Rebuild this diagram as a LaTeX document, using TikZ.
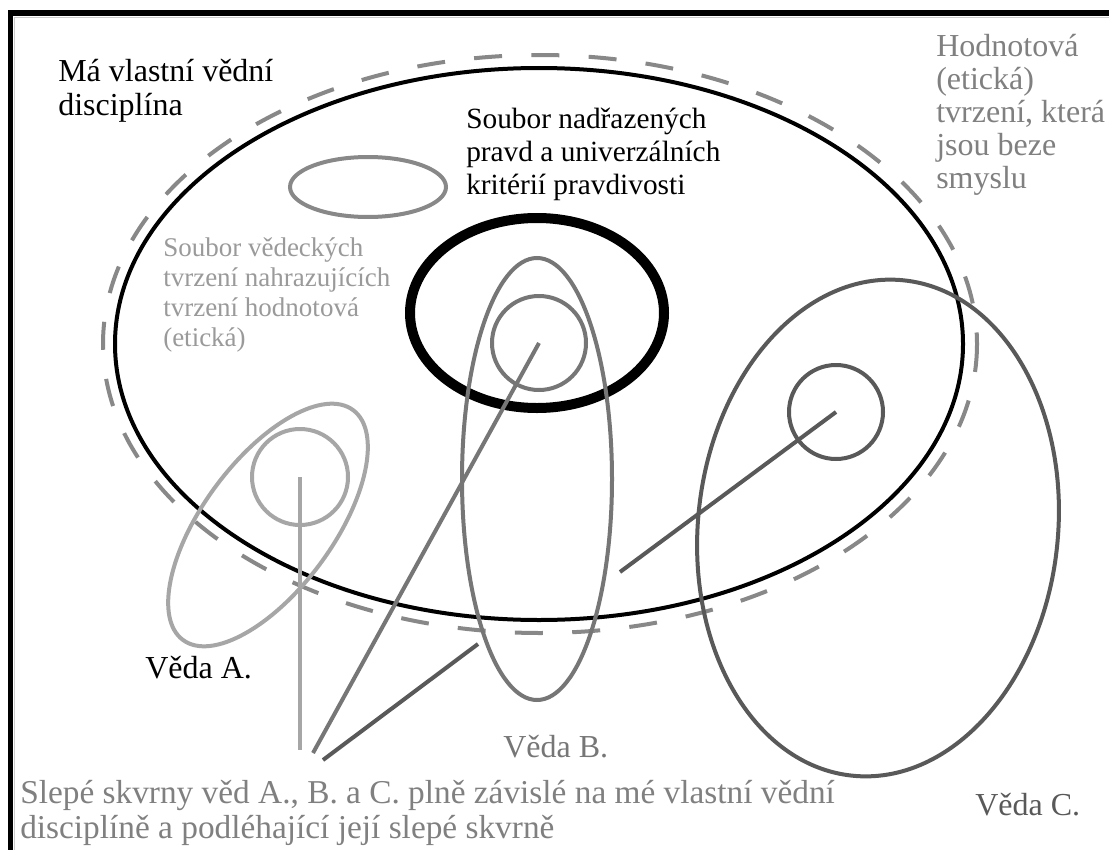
\documentclass[tikz,border=0pt]{standalone}
\usepackage{fontspec}
\setmainfont{Liberation Serif}
\definecolor{dashgray}{HTML}{888888}
\definecolor{agray}{HTML}{A6A6A6}
\definecolor{bgray}{HTML}{767676}
\definecolor{cgray}{HTML}{595959}
\definecolor{txtgray}{HTML}{808080}
\definecolor{lightfrm}{HTML}{CCCCCC}
\begin{document}
\begin{tikzpicture}[x=0.75pt,y=-0.75pt,
  shapeline/.style={line width=3pt},
  bigtext/.style={font=\fontsize{24}{24.75}\selectfont, align=left, inner sep=0pt, anchor=base west},
  smalltext/.style={font=\fontsize{20.25}{22.5}\selectfont, align=left, inner sep=0pt, anchor=base west},
  dashline/.style={shapeline, draw=dashgray, dash pattern=on 21pt off 22pt},
]
\useasboundingbox (0,0) rectangle (1109,849);
\clip (0,0) rectangle (1109,849);
\fill[white] (0,0) rectangle (1109,849);

% frame
\draw[lightfrm, line width=1.1pt] (14.5,860) -- (14.5,17.5) -- (1120,17.5);
\draw[line width=4.2pt] (10.5,860) -- (10.5,13) -- (1120,13);

% own discipline
\draw[dashline] (540,344) ellipse [x radius=437, y radius=289];
\draw[shapeline, black] (539,344) ellipse [x radius=424, y radius=276];
\draw[shapeline, dashgray] (368,187) ellipse [x radius=78, y radius=30];
\draw[line width=7.5pt, black] (537,313) ellipse [x radius=127, y radius=95];

% science A
\coordinate (cA) at (300,477);
\coordinate (eA) at (300,750);
\draw[shapeline, agray, rotate around={53.5:(268,525)}] (268,525) ellipse [x radius=143, y radius=65];
\draw[shapeline, agray] (cA) circle [radius=48];
\draw[shapeline, agray] (cA) -- (eA);

% science B
\coordinate (cB) at (539,343);
\coordinate (eB) at (313,753);
\draw[shapeline, bgray] (537,479) ellipse [x radius=75, y radius=221];
\draw[shapeline, bgray] (cB) circle [radius=47];
\draw[shapeline, bgray] (cB) -- (eB);

% science C
\coordinate (cC) at (836,412);
\coordinate (mC) at (620,572);
\coordinate (nC) at (478,644);
\coordinate (eC) at (323,760);
\draw[shapeline, cgray, rotate around={-6:(878,528)}] (878,528) ellipse [x radius=180, y radius=249];
\draw[shapeline, cgray] (cC) circle [radius=47];
\draw[shapeline, cgray] (cC) -- (mC);
\draw[shapeline, cgray] (nC) -- (eC);

% texts (anchor = baseline of last line)
\node[bigtext] (own) at (58,115) {Má vlastní vědní\\disciplína};
\node[bigtext, font=\fontsize{22}{24.75}\selectfont] (truth) at (466,194) {Soubor nadřazených\\pravd a univerzálních\\kritérií pravdivosti};
\node[bigtext, text=txtgray] (value) at (936,188) {Hodnotová\\(etická)\\tvrzení, která\\jsou beze\\smyslu};
\node[smalltext, text=txtgray!80] (sci) at (163,346) {Soubor vědeckých\\tvrzení nahrazujících\\tvrzení hodnotová\\(etická)};
\node[bigtext] (vA) at (145,678) {Věda A.};
\node[bigtext, text=bgray] (vB) at (503,757) {Věda B.};
\node[bigtext, text=cgray] (vC) at (975,815) {Věda C.};
\node[bigtext, text=txtgray, font=\fontsize{25}{26}\selectfont] (blind) at (20,838) {Slepé skvrny věd A., B. a C. plně závislé na mé vlastní vědní\\disciplíně a podléhající její slepé skvrně};
\end{tikzpicture}
\end{document}
